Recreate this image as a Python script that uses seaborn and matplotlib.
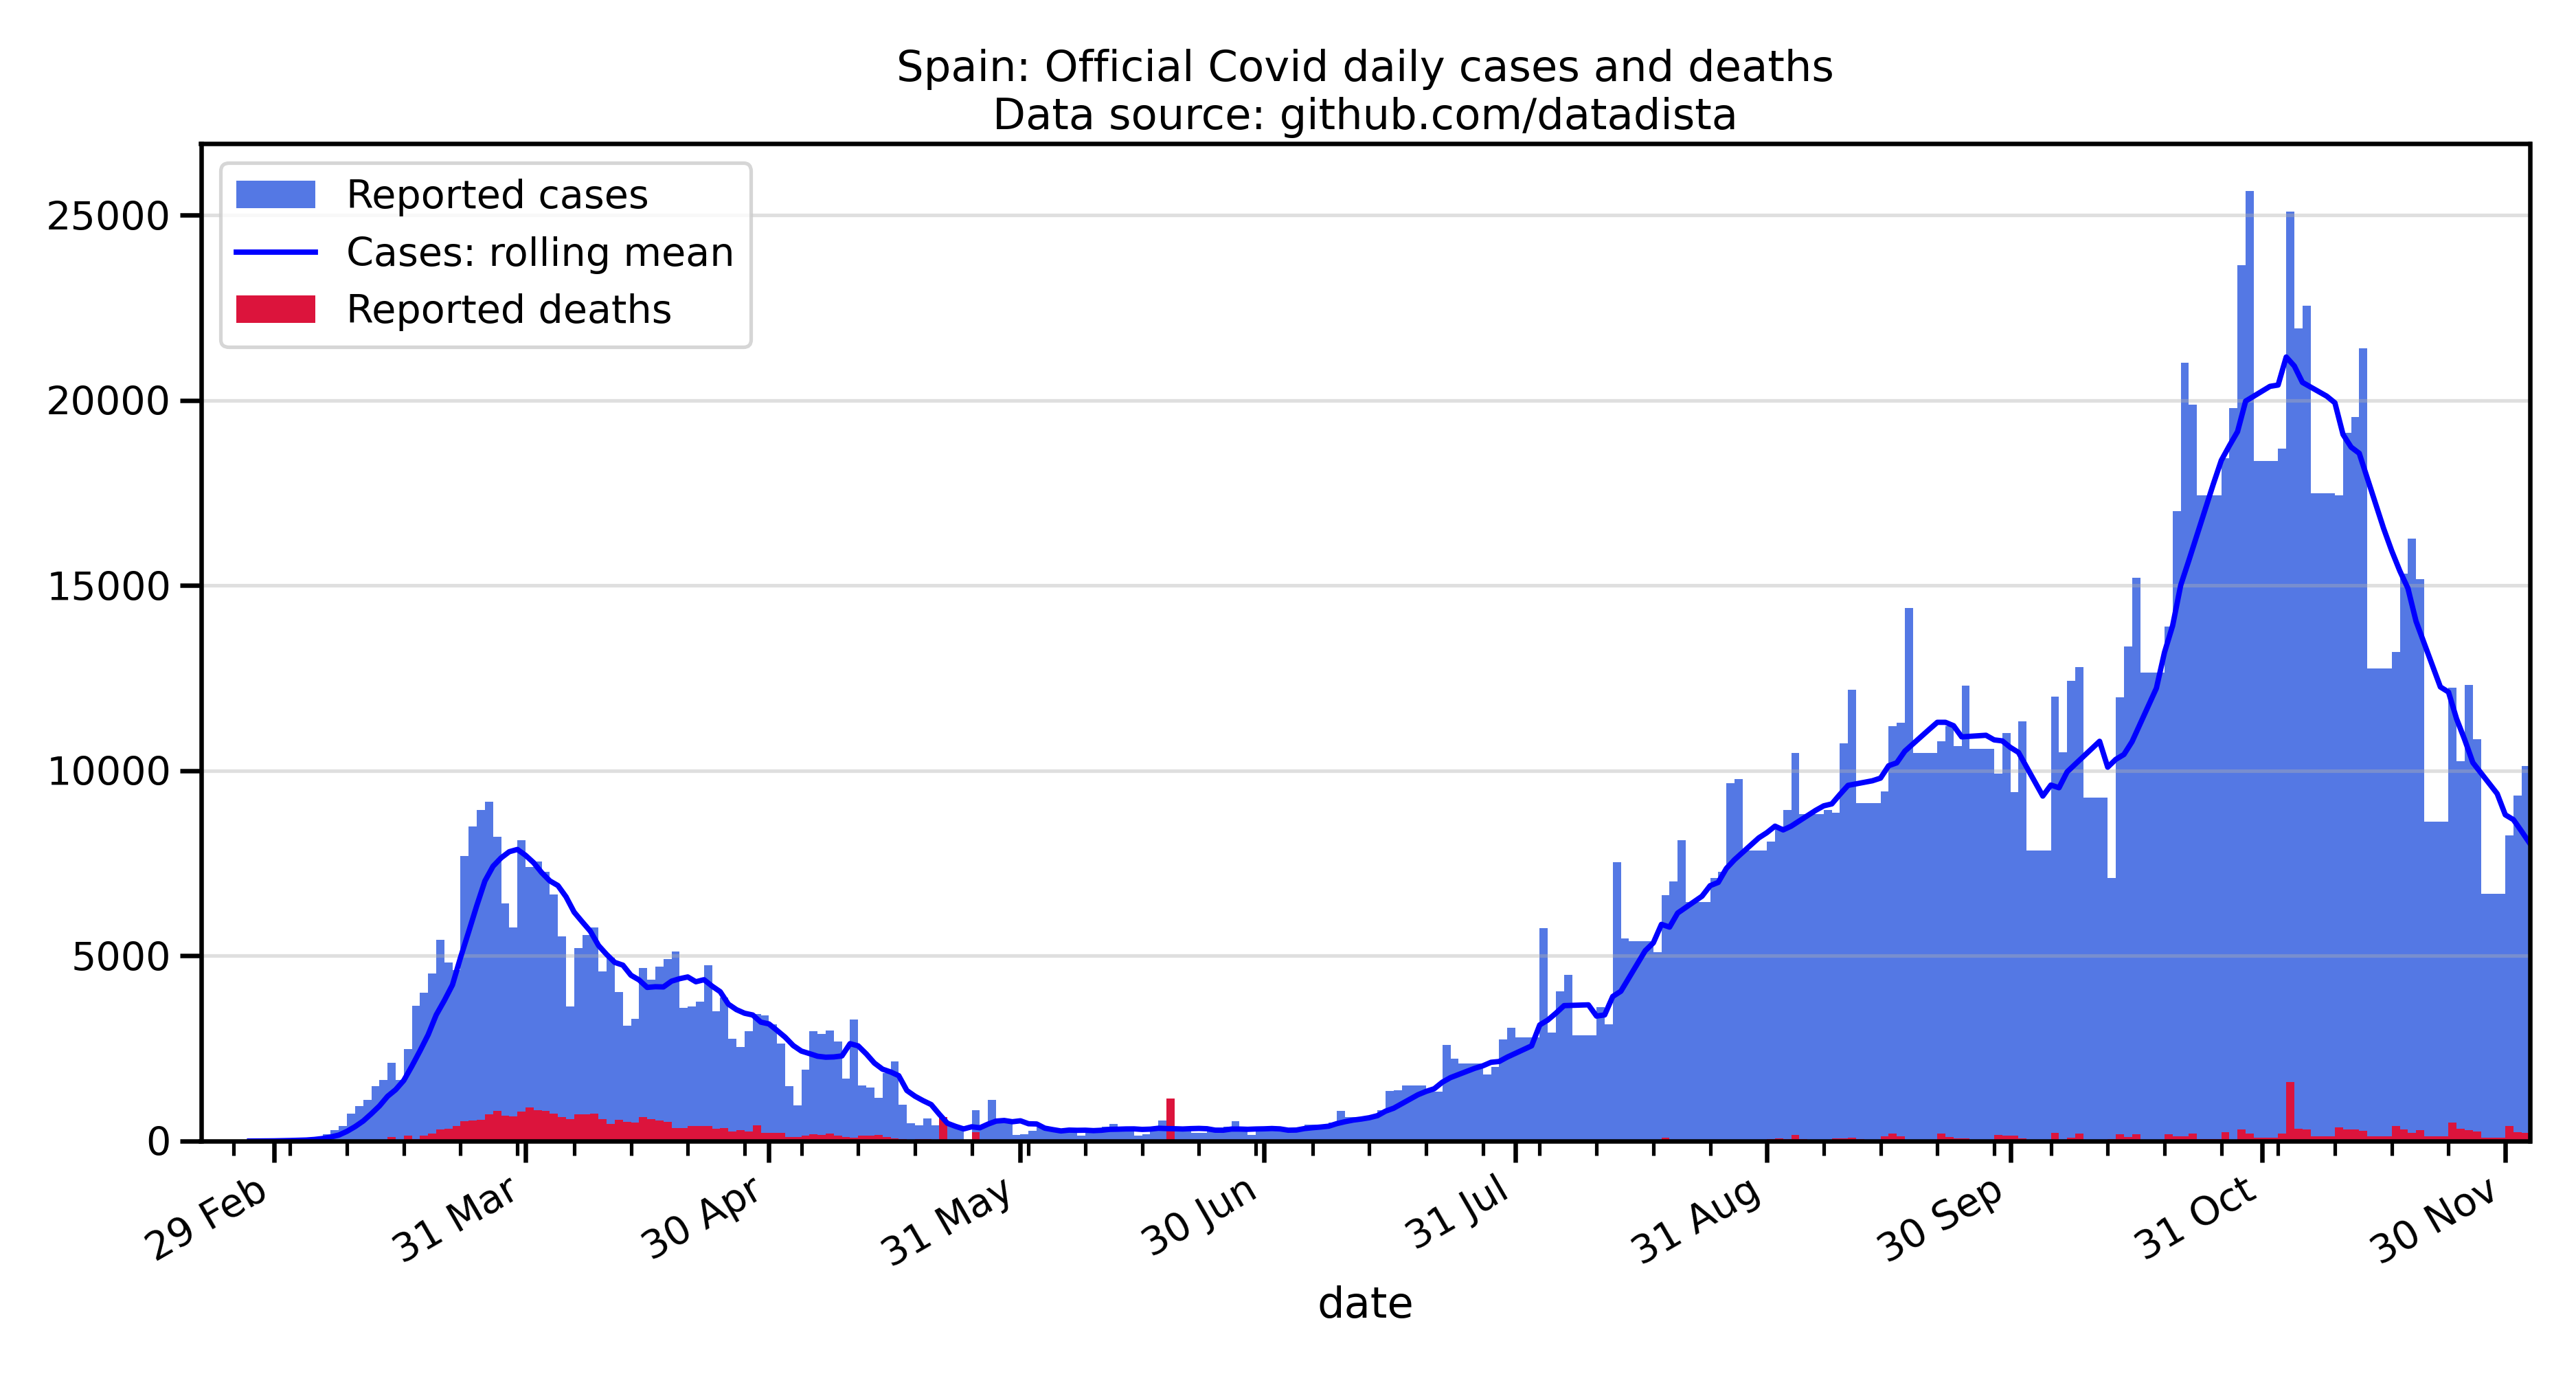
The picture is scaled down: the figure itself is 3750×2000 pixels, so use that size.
import numpy as np
import pandas as pd
import matplotlib
matplotlib.use("Agg")
import matplotlib.pyplot as plt
import matplotlib.dates as mdates
import seaborn as sns

# === DATA (one value per day) ===
START = "2020-02-20"

cases_feb = [0, 0, 0, 0, 1, 4, 8, 10, 12, 13]
cases_mar = [30, 37, 45, 60, 120, 190, 290, 400, 740, 940, 1120, 1490, 1660, 2110, 1660, 2490,
             3650, 4000, 4520, 5430, 4830, 4610, 7690, 8500, 8950, 9160, 8210, 6420, 5770, 8120, 7400]
cases_apr = [7550, 7270, 6660, 5530, 3640, 5220, 5570, 5770, 4590, 4960, 4030, 3120, 3310, 4680, 4360,
             4720, 4920, 5120, 3590, 3640, 3770, 4750, 3500, 3870, 2770, 2550, 2960, 3440, 3400, 3160]
cases_may = [2640, 1490, 970, 1920, 2960, 2900, 2980, 2690, 1680, 3290, 1500, 1450, 1160, 1830, 2160,
             980, 490, 420, 610, 420, 0, 450, 400, 0, 830, 420, 1110, 570, 570, 160, 180]
cases_jun = [270, 380, 320, 290, 320, 320, 140, 290, 300, 390, 460, 350, 370, 150, 190,
             350, 560, 400, 320, 320, 220, 230, 290, 290, 390, 540, 320, 170, 290, 320]
cases_jul = [350, 320, 290, 350, 450, 450, 450, 510, 810, 650, 650, 650, 700, 840, 1360, 1370,
             1500, 1500, 1500, 1330, 1340, 2600, 2230, 2090, 2090, 2090, 1800, 2000, 2750, 3060, 2800]
cases_aug = [2800, 2800, 5750, 2930, 4050, 4480, 2850, 2850, 2850, 3620, 3150, 7540, 5470, 5400, 5400,
             5400, 5110, 6650, 7020, 8130, 6460, 6460, 6460, 7100, 7270, 9660, 9770, 7840, 7840, 7840, 8090]
cases_sep = [8490, 8950, 10490, 8830, 8830, 8830, 8950, 8860, 10750, 12190, 9120, 9120, 9120, 9450, 11200,
             11300, 14400, 10490, 10490, 10490, 10790, 11200, 10660, 12290, 10590, 10590, 10590, 9920, 11010, 9430]
cases_oct = [11340, 7840, 7840, 7840, 12000, 10500, 12430, 12800, 9280, 9280, 9280, 7110, 11980, 13350, 15220,
             12650, 12650, 12650, 13890, 17010, 21010, 19890, 17440, 17440, 17440, 18440, 19800, 23650, 25660,
             18370, 18370]
cases_nov = [18370, 18690, 25100, 21950, 22560, 17500, 17500, 17500, 17440, 19120, 19550, 21400, 12770, 12770,
             12770, 13200, 15320, 16260, 15170, 8630, 8630, 8630, 12240, 10250, 12310, 10860, 6670, 6670, 6670, 8250]
cases_dec = [9330, 10130, 8600]

deaths_feb = [0, 0, 0, 0, 0, 0, 0, 0, 0, 0]
deaths_mar = [0, 0, 1, 1, 2, 3, 5, 7, 10, 12, 20, 30, 35, 110, 20, 140, 60, 140, 210, 310, 330, 400,
              530, 550, 570, 720, 810, 680, 660, 790, 900]
deaths_apr = [830, 810, 740, 640, 600, 720, 720, 740, 600, 460, 570, 520, 500, 640, 590, 550, 520, 360,
              360, 400, 400, 400, 330, 350, 260, 290, 260, 420, 230, 230]
deaths_may = [230, 120, 120, 140, 190, 170, 200, 140, 120, 90, 140, 140, 170, 110, 70, 50, 20, 60, 60, 20,
              640, 30, 30, 0, 250, 0, 0, 0, 0, 0, 0]
deaths_jun = [5, 5, 5, 5, 5, 0, 0, 5, 5, 5, 5, 5, 0, 0, 5, 5, 5, 1150, 5, 0, 0, 5, 5, 5, 5, 5, 0, 0, 5, 5]
deaths_jul = [5, 5, 5, 0, 0, 10, 10, 10, 10, 10, 0, 0, 10, 10, 10, 10, 10, 0, 0, 15, 15, 15, 15, 15, 0, 0,
              20, 20, 20, 20, 20]
deaths_aug = [0, 0, 20, 20, 20, 20, 20, 0, 0, 30, 30, 30, 30, 30, 0, 0, 30, 100, 30, 30, 30, 0, 0,
              40, 40, 40, 40, 40, 0, 0, 50]
deaths_sep = [80, 60, 160, 50, 0, 0, 30, 80, 70, 90, 50, 0, 0, 130, 210, 130, 40, 10, 10, 10, 210, 110,
              80, 80, 10, 10, 10, 160, 150, 150]
deaths_oct = [70, 10, 10, 10, 220, 40, 90, 210, 30, 30, 30, 60, 180, 120, 180, 30, 30, 30, 180, 130, 130,
              210, 60, 60, 60, 240, 10, 320, 210, 90, 90]
deaths_nov = [90, 210, 1600, 330, 320, 130, 130, 130, 370, 320, 320, 280, 130, 130, 130, 400, 320, 220, 300,
              130, 130, 130, 500, 330, 300, 260, 90, 90, 90, 400]
deaths_dec = [240, 220, 200]
# =====================================================

cases = (cases_feb + cases_mar + cases_apr + cases_may + cases_jun + cases_jul
         + cases_aug + cases_sep + cases_oct + cases_nov + cases_dec)
deaths = (deaths_feb + deaths_mar + deaths_apr + deaths_may + deaths_jun + deaths_jul
          + deaths_aug + deaths_sep + deaths_oct + deaths_nov + deaths_dec)

dates = pd.date_range(START, periods=len(cases), freq="D")
df = pd.DataFrame({"cases": cases, "deaths": deaths}, index=dates)
df.index.name = "date"
df["rolling"] = df["cases"].rolling(7).mean()
roll = df["rolling"].dropna().reset_index()

sns.set_context("talk")

fig, ax = plt.subplots(figsize=(15, 8))
fig.subplots_adjust(left=0.078, right=0.982, top=0.8957, bottom=0.1695)

ax.bar(df.index, df["cases"], width=1, align="edge", color="royalblue", alpha=0.9,
       label="Reported cases")
sns.lineplot(data=roll, x="date", y="rolling", ax=ax, color="blue",
             label="Cases: rolling mean", legend=False)
ax.bar(df.index, df["deaths"], width=1, align="edge", color="crimson",
       label="Reported deaths")

# dates: month ends as majors, mondays as minors
ax.xaxis.set_major_locator(mdates.MonthLocator(bymonthday=-1))
ax.xaxis.set_major_formatter(mdates.DateFormatter("%d %b"))
ax.xaxis.set_minor_locator(mdates.WeekdayLocator(byweekday=mdates.MO))
ax.set_xlim(dates[0], dates[-1])
plt.setp(ax.get_xticklabels(), rotation=30, ha="right")

ax.grid(axis="y", alpha=0.4)
ax.set_xlabel("date")
ax.set_ylabel("")
ax.set_title("Spain: Official Covid daily cases and deaths\nData source: github.com/datadista")

handles, labels = ax.get_legend_handles_labels()
order = [labels.index(l) for l in ["Reported cases", "Cases: rolling mean", "Reported deaths"]]
ax.legend([handles[i] for i in order], [labels[i] for i in order], loc="upper left")

fig.savefig("out.png", dpi=250)
